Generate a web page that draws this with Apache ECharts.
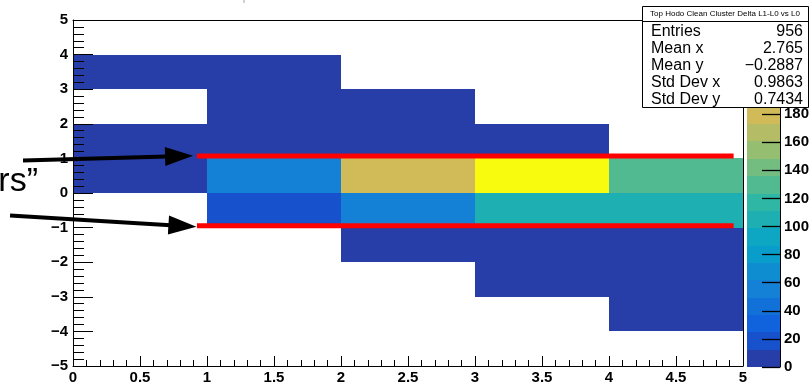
<!DOCTYPE html>
<html>
<head>
<meta charset="utf-8">
<script src="https://cdn.jsdelivr.net/npm/echarts@6/dist/echarts.min.js"></script>
<style>
  html, body { margin: 0; padding: 0; background: #fff; }
  #chart { width: 812px; height: 385px; }
</style>
</head>
<body>
<div id="chart"></div>
<script>
// histogram binning
const xEdges = [0, 1, 2, 3, 4, 5];
const rowLow = [4, 3, 2, 1, 0, -1, -2, -3, -4, -5]; // lower y edge of each row, top row first
const counts = [
  [0, 0, 0, 0, 0],
  [3, 4, 0, 0, 0],
  [0, 2, 5, 0, 0],
  [3, 4, 6, 5, 0],
  [2, 55, 180, 247, 130],
  [0, 20, 55, 105, 105],
  [0, 0, 4, 5, 3],
  [0, 0, 0, 3, 4],
  [0, 0, 0, 0, 1],
  [0, 0, 0, 0, 0]
];
const zMax = 247;
const nContours = 20;

// stats box
const histTitle = 'Top Hodo Clean Cluster Delta L1-L0 vs L0';
const statLabels = ['Entries', 'Mean x', 'Mean y', 'Std Dev x', 'Std Dev y'];
const statValues = ['956', '2.765', '\u22120.2887', '0.9863', '0.7434'];

// annotations (data coords)
const cutLines = [[0.925, 1.07, 4.93, 1.07], [0.925, -0.95, 4.93, -0.95]];
const arrows = [[-0.373, 0.937, 0.896, 1.08], [-0.47, -0.648, 0.921, -0.974]];
const sideText = 'rs\u201d';

// ROOT kBird palette
const birdStops = [0, 0.125, 0.25, 0.375, 0.5, 0.625, 0.75, 0.875, 1];
const birdR = [0.2082, 0.0592, 0.0780, 0.0232, 0.1802, 0.5301, 0.8186, 0.9956, 0.9764];
const birdG = [0.1664, 0.3599, 0.5041, 0.6419, 0.7178, 0.7492, 0.7328, 0.7862, 0.9832];
const birdB = [0.5293, 0.8684, 0.8385, 0.7914, 0.6425, 0.4662, 0.3499, 0.1968, 0.0539];

function bird(f) {
  let k = 1;
  while (k < birdStops.length - 1 && f > birdStops[k]) k++;
  const t = (f - birdStops[k - 1]) / (birdStops[k] - birdStops[k - 1]);
  const c = arr => Math.round(255 * (arr[k - 1] + t * (arr[k] - arr[k - 1])));
  return `rgb(${c(birdR)},${c(birdG)},${c(birdB)})`;
}

function bandColor(i) {
  const idx = Math.floor((i + 0.99) * 255 / nContours);
  return bird(idx / 254);
}

function zColor(z) {
  let i = Math.floor(0.01 + z / zMax * nContours);
  if (i >= nContours) i = nContours - 1;
  return bandColor(i);
}

const bins = [];
counts.forEach((row, r) => {
  row.forEach((v, c) => {
    if (v > 0) bins.push([xEdges[c], xEdges[c + 1], rowLow[r], rowLow[r] + 1, v]);
  });
});

const bands = [];
for (let i = 0; i < nContours; i++) {
  bands.push([0, 1, i * zMax / nContours, (i + 1) * zMax / nContours, i]);
}

const font = "'Liberation Sans', Arial, Helvetica, sans-serif";
const minus = v => (v < 0 ? '\u2212' + Math.abs(v) : String(v));

// pixel-snapped cell so neighbouring cells do not leave seams
function cell(api, color) {
  const p0 = api.coord([api.value(0), api.value(3)]);
  const p1 = api.coord([api.value(1), api.value(2)]);
  const x0 = Math.round(p0[0]), y0 = Math.round(p0[1]);
  const x1 = Math.round(p1[0]), y1 = Math.round(p1[1]);
  return {
    type: 'rect',
    shape: { x: x0, y: y0, width: x1 - x0, height: y1 - y0 },
    style: { fill: color }
  };
}

const chart = echarts.init(document.getElementById('chart'));

const statsBox = [
  { type: 'rect', shape: { x: 642.5, y: 6.5, width: 166, height: 101 },
    style: { fill: '#fff', stroke: '#000', lineWidth: 1 }, z: 100 },
  { type: 'line', shape: { x1: 642.5, y1: 21.5, x2: 808.5, y2: 21.5 },
    style: { stroke: '#000', lineWidth: 1 }, z: 101 },
  { type: 'text', x: 725, y: 14, z: 101,
    style: { text: histTitle, font: `8px ${font}`, fill: '#000', align: 'center', verticalAlign: 'middle' } }
];
statLabels.forEach((lab, i) => {
  statsBox.push({ type: 'text', x: 651, y: 32 + i * 17, z: 101,
    style: { text: lab, font: `16px ${font}`, fill: '#000', align: 'left', verticalAlign: 'middle' } });
  statsBox.push({ type: 'text', x: 803, y: 32 + i * 17, z: 101,
    style: { text: statValues[i], font: `16px ${font}`, fill: '#000', align: 'right', verticalAlign: 'middle' } });
});

const frameLine = { show: true, onZero: false, lineStyle: { color: '#000', width: 1 } };

const option = {
  animation: false,
  backgroundColor: '#fff',
  grid: [
    { left: 73, right: 69, top: 20, bottom: 18 },
    { left: 747, width: 37, top: 20, bottom: 18 }
  ],
  xAxis: [
    {
      gridIndex: 0, type: 'value', min: 0, max: 5, interval: 0.5, z: 5,
      axisLine: frameLine,
      axisTick: { show: true, inside: true, length: 10, lineStyle: { color: '#000' } },
      minorTick: { show: true, splitNumber: 5, length: 6, lineStyle: { color: '#000' } },
      axisLabel: { color: '#000', fontWeight: 'bold', fontSize: 15, fontFamily: font, margin: 4 },
      splitLine: { show: false }
    },
    {
      gridIndex: 0, type: 'value', min: 0, max: 5, position: 'top', z: 5,
      axisLine: frameLine,
      axisTick: { show: false }, axisLabel: { show: false }, splitLine: { show: false }
    },
    {
      gridIndex: 1, type: 'value', min: 0, max: 1, show: false
    }
  ],
  yAxis: [
    {
      gridIndex: 0, type: 'value', min: -5, max: 5, interval: 1, z: 5,
      axisLine: frameLine,
      axisTick: { show: true, inside: true, length: 20, lineStyle: { color: '#000' } },
      minorTick: { show: true, splitNumber: 5, length: 11, lineStyle: { color: '#000' } },
      axisLabel: { color: '#000', fontWeight: 'bold', fontSize: 15, fontFamily: font, margin: 5, formatter: minus },
      splitLine: { show: false }
    },
    {
      gridIndex: 0, type: 'value', min: -5, max: 5, position: 'right', z: 5,
      axisLine: frameLine,
      axisTick: { show: false }, axisLabel: { show: false }, splitLine: { show: false }
    },
    {
      gridIndex: 1, type: 'value', min: 0, max: zMax, interval: 20, position: 'right', z: 5,
      axisLine: frameLine,
      axisTick: { show: true, inside: true, length: 18, lineStyle: { color: '#000', width: 1.3 } },
      axisLabel: { color: '#000', fontWeight: 'bold', fontSize: 15, fontFamily: font, margin: 4, showMaxLabel: false },
      splitLine: { show: false }
    }
  ],
  series: [
    {
      type: 'custom', xAxisIndex: 0, yAxisIndex: 0, z: 2,
      encode: { x: [0, 1], y: [2, 3] },
      data: bins,
      renderItem: (params, api) => cell(api, zColor(api.value(4)))
    },
    {
      type: 'custom', xAxisIndex: 2, yAxisIndex: 2, z: 2,
      encode: { x: [0, 1], y: [2, 3] },
      data: bands,
      renderItem: (params, api) => cell(api, bandColor(api.value(4)))
    },
    ...cutLines.map(l => ({
      type: 'line', xAxisIndex: 0, yAxisIndex: 0, z: 8, silent: true,
      data: [[l[0], l[1]], [l[2], l[3]]],
      symbol: 'none',
      lineStyle: { color: '#ff0000', width: 5, cap: 'butt' }
    })),
    {
      type: 'custom', xAxisIndex: 0, yAxisIndex: 0, z: 9, clip: false,
      encode: { x: [0, 2], y: [1, 3] },
      data: arrows,
      renderItem: (params, api) => {
        const p0 = api.coord([api.value(0), api.value(1)]);
        const tip = api.coord([api.value(2), api.value(3)]);
        const dx = tip[0] - p0[0], dy = tip[1] - p0[1];
        const len = Math.sqrt(dx * dx + dy * dy);
        const ux = dx / len, uy = dy / len;
        const headLen = 28, headHalf = 9.5;
        const bx = tip[0] - ux * headLen, by = tip[1] - uy * headLen;
        return {
          type: 'group',
          children: [
            { type: 'line', shape: { x1: p0[0], y1: p0[1], x2: bx + ux * 2, y2: by + uy * 2 },
              style: { stroke: '#000', lineWidth: 4 } },
            { type: 'polygon',
              shape: { points: [tip, [bx - uy * headHalf, by + ux * headHalf], [bx + uy * headHalf, by - ux * headHalf]] },
              style: { fill: '#000' } }
          ]
        };
      }
    }
  ],
  graphic: [
    { type: 'text', x: 408, y: 3.5, z: 1,
      style: { text: histTitle, font: `20px ${font}`, fill: '#ccc', align: 'center', verticalAlign: 'bottom' } },
    { type: 'text', x: 38, y: 182, z: 10,
      style: { text: sideText, font: `34px ${font}`, fill: '#000', align: 'right', verticalAlign: 'middle' } },
    ...statsBox
  ]
};

chart.setOption(option);
window.addEventListener('resize', () => chart.resize());
</script>
</body>
</html>
